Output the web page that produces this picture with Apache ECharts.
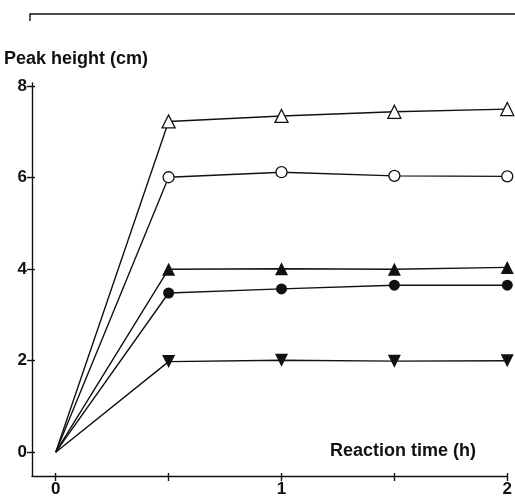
<!DOCTYPE html>
<html>
<head>
<meta charset="utf-8">
<script src="https://cdn.jsdelivr.net/npm/echarts@6/dist/echarts.min.js"></script>
<style>
  html, body { margin: 0; padding: 0; background: #fff; }
  #main { width: 515px; height: 498px; }
</style>
</head>
<body>
<div id="main"></div>
<script>
// reaction time (h) for every series
var times = [0, 0.5, 1, 1.5, 2];
// peak height (cm), one array per marker
var openTriangle = [0, 7.23, 7.35, 7.44, 7.5];
var openCircle = [0, 6.01, 6.12, 6.04, 6.03];
var filledTriangle = [0, 4.0, 4.01, 4.0, 4.04];
var filledCircle = [0, 3.48, 3.57, 3.65, 3.65];
var downTriangle = [0, 1.98, 2.01, 1.99, 2.0];

var xTicks = [0, 0.5, 1, 1.5, 2];
var xLabels = [0, 1, 2];
var yTicks = [0, 2, 4, 6, 8];

var ink = '#111';
var font = '"Liberation Sans", Arial, sans-serif';

function pairs(ys) {
    return times.map(function (t, i) { return [t, ys[i]]; });
}

function makeSeries(name, ys, symbol, size, open, rotate) {
    var data = pairs(ys);
    // no marker at the origin
    data[0] = { value: data[0], symbol: 'none' };
    return {
        name: name,
        type: 'line',
        data: data,
        symbol: symbol,
        symbolSize: size,
        symbolRotate: rotate || 0,
        showAllSymbol: true,
        lineStyle: { color: ink, width: 1.4 },
        itemStyle: {
            color: open ? '#fff' : ink,
            borderColor: ink,
            borderWidth: open ? 1.3 : 0
        },
        silent: true,
        z: 3
    };
}

var series = [
    makeSeries('open triangle', openTriangle, 'triangle', 13, true),
    makeSeries('open circle', openCircle, 'circle', 11, true),
    makeSeries('filled triangle', filledTriangle, 'triangle', 13, false),
    makeSeries('filled circle', filledCircle, 'circle', 11, false),
    makeSeries('down triangle', downTriangle, 'triangle', 13, false, 180)
];

var labelStyle = { color: ink, fontSize: 17, fontWeight: 'bold', fontFamily: font, margin: 5 };

function xAx(inside) {
    return {
        type: 'value', min: -0.105, max: 2,
        axisLine: { show: !inside, onZero: false, lineStyle: { color: ink, width: 1.4 } },
        axisTick: { show: true, inside: inside, length: inside ? 3 : 5, customValues: xTicks,
            lineStyle: { color: ink, width: 1.4 } },
        axisLabel: Object.assign({ show: !inside, customValues: xLabels }, labelStyle),
        splitLine: { show: false },
        position: 'bottom'
    };
}
function yAx(inside) {
    return {
        type: 'value', min: -0.52, max: 8.07,
        axisLine: { show: !inside, onZero: false, lineStyle: { color: ink, width: 1.4 } },
        axisTick: { show: true, inside: inside, length: inside ? 3 : 5, customValues: yTicks,
            lineStyle: { color: ink, width: 1.4 } },
        axisLabel: Object.assign({ show: !inside, customValues: yTicks }, labelStyle),
        splitLine: { show: false },
        position: 'left'
    };
}

var myChart = echarts.init(document.getElementById('main'));
var option = {
    animation: false,
    backgroundColor: '#fff',
    grid: { left: 32, top: 83, width: 478, height: 393 },
    xAxis: [xAx(false), xAx(true)],
    yAxis: [yAx(false), yAx(true)],
    graphic: [
        {
            type: 'polyline',
            shape: { points: [[30, 21], [30, 14], [515, 14]] },
            style: { stroke: ink, lineWidth: 1.4, fill: null }
        },
        {
            type: 'text', left: 4, top: 50,
            style: { text: 'Peak height (cm)', fill: ink, font: 'bold 18px ' + font }
        },
        {
            type: 'text', left: 330, top: 442,
            style: { text: 'Reaction time (h)', fill: ink, font: 'bold 18px ' + font }
        }
    ],
    series: series
};
myChart.setOption(option);
</script>
</body>
</html>
